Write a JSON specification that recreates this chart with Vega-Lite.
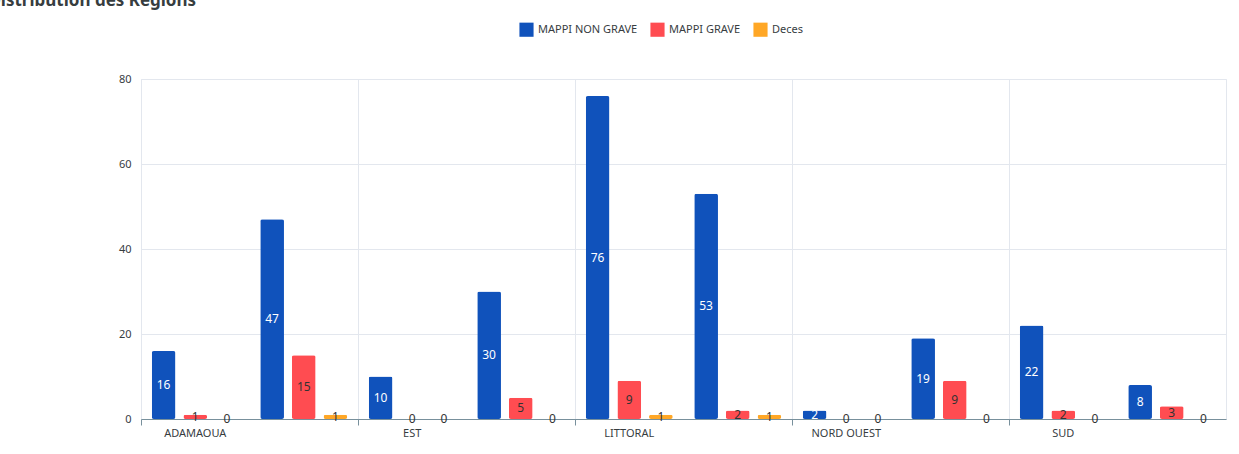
{
  "$schema": "https://vega.github.io/schema/vega-lite/v6.json",
  "autosize": "none",
  "width": 1085,
  "height": 340,
  "padding": {"left": 141, "top": 79, "right": 13, "bottom": 35},
  "background": "white",
  "config": {
    "font": "Noto Sans",
    "view": {"stroke": "#e3e7ee"}
  },
  "title": {
    "text": "Distribution des Régions",
    "anchor": "start",
    "dx": -130,
    "offset": 12,
    "fontSize": 17,
    "fontWeight": "bold",
    "color": "#373d3f"
  },
  "data": {
    "values": [
      {"g": "ADAMAOUA|1", "s": "MAPPI NON GRAVE", "v": 16},
      {"g": "ADAMAOUA|1", "s": "MAPPI GRAVE", "v": 1},
      {"g": "ADAMAOUA|1", "s": "Deces", "v": 0},
      {"g": "ADAMAOUA|2", "s": "MAPPI NON GRAVE", "v": 47},
      {"g": "ADAMAOUA|2", "s": "MAPPI GRAVE", "v": 15},
      {"g": "ADAMAOUA|2", "s": "Deces", "v": 1},
      {"g": "EST|1", "s": "MAPPI NON GRAVE", "v": 10},
      {"g": "EST|1", "s": "MAPPI GRAVE", "v": 0},
      {"g": "EST|1", "s": "Deces", "v": 0},
      {"g": "EST|2", "s": "MAPPI NON GRAVE", "v": 30},
      {"g": "EST|2", "s": "MAPPI GRAVE", "v": 5},
      {"g": "EST|2", "s": "Deces", "v": 0},
      {"g": "LITTORAL|1", "s": "MAPPI NON GRAVE", "v": 76},
      {"g": "LITTORAL|1", "s": "MAPPI GRAVE", "v": 9},
      {"g": "LITTORAL|1", "s": "Deces", "v": 1},
      {"g": "LITTORAL|2", "s": "MAPPI NON GRAVE", "v": 53},
      {"g": "LITTORAL|2", "s": "MAPPI GRAVE", "v": 2},
      {"g": "LITTORAL|2", "s": "Deces", "v": 1},
      {"g": "NORD OUEST|1", "s": "MAPPI NON GRAVE", "v": 2},
      {"g": "NORD OUEST|1", "s": "MAPPI GRAVE", "v": 0},
      {"g": "NORD OUEST|1", "s": "Deces", "v": 0},
      {"g": "NORD OUEST|2", "s": "MAPPI NON GRAVE", "v": 19},
      {"g": "NORD OUEST|2", "s": "MAPPI GRAVE", "v": 9},
      {"g": "NORD OUEST|2", "s": "Deces", "v": 0},
      {"g": "SUD|1", "s": "MAPPI NON GRAVE", "v": 22},
      {"g": "SUD|1", "s": "MAPPI GRAVE", "v": 2},
      {"g": "SUD|1", "s": "Deces", "v": 0},
      {"g": "SUD|2", "s": "MAPPI NON GRAVE", "v": 8},
      {"g": "SUD|2", "s": "MAPPI GRAVE", "v": 3},
      {"g": "SUD|2", "s": "Deces", "v": 0}
    ]
  },
  "encoding": {
    "x": {
      "field": "g",
      "type": "nominal",
      "sort": null,
      "title": null,
      "scale": {"paddingInner": 0, "paddingOuter": 0},
      "axis": {
        "bandPosition": 0,
        "labelAngle": 0,
        "labelAlign": "center",
        "labelOffset": 0,
        "labelColor": "#373d3f",
        "labelFontSize": 11,
        "labelExpr": "split(datum.label, '|')[1] == '1' ? split(datum.label, '|')[0] : ''",
        "domainColor": "#78909c",
        "tickColor": "#78909c",
        "tickSize": 6,
        "tickOpacity": {"condition": {"test": "split(datum.value, '|')[1] == '1'", "value": 1}, "value": 0},
        "grid": true,
        "gridColor": "#e3e7ee",
        "gridOpacity": {"condition": {"test": "split(datum.value, '|')[1] == '1'", "value": 1}, "value": 0}
      }
    },
    "xOffset": {
      "field": "s",
      "type": "nominal",
      "sort": ["MAPPI NON GRAVE", "MAPPI GRAVE", "Deces"],
      "scale": {"paddingInner": 0.25, "paddingOuter": 0.34}
    }
  },
  "layer": [
    {
      "mark": {"type": "bar", "cornerRadius": 2},
      "encoding": {
        "y": {
          "field": "v",
          "type": "quantitative",
          "title": null,
          "scale": {"domain": [0, 80]},
          "axis": {
            "values": [0, 20, 40, 60, 80],
            "domain": false,
            "ticks": false,
            "labelPadding": 10,
            "labelColor": "#373d3f",
            "labelFontSize": 11,
            "gridColor": "#e3e7ee"
          }
        },
        "color": {
          "field": "s",
          "type": "nominal",
          "title": null,
          "scale": {
            "domain": ["MAPPI NON GRAVE", "MAPPI GRAVE", "Deces"],
            "range": ["#1052bb", "#ff4c51", "#ffa726"]
          },
          "legend": {
            "orient": "none",
            "legendX": 378,
            "legendY": -57,
            "direction": "horizontal",
            "symbolType": "square",
            "symbolSize": 200,
            "symbolStrokeWidth": 0,
            "labelFontSize": 11,
            "labelColor": "#373d3f",
            "columnPadding": 12
          }
        }
      }
    },
    {
      "transform": [{"calculate": "datum.v / 2", "as": "mid"}],
      "mark": {"type": "text", "fontSize": 12, "baseline": "middle"},
      "encoding": {
        "y": {"field": "mid", "type": "quantitative"},
        "text": {"field": "v", "type": "quantitative"},
        "color": {
          "condition": {"test": "datum.s == 'MAPPI NON GRAVE'", "value": "white"},
          "value": "#333333"
        }
      }
    }
  ]
}
